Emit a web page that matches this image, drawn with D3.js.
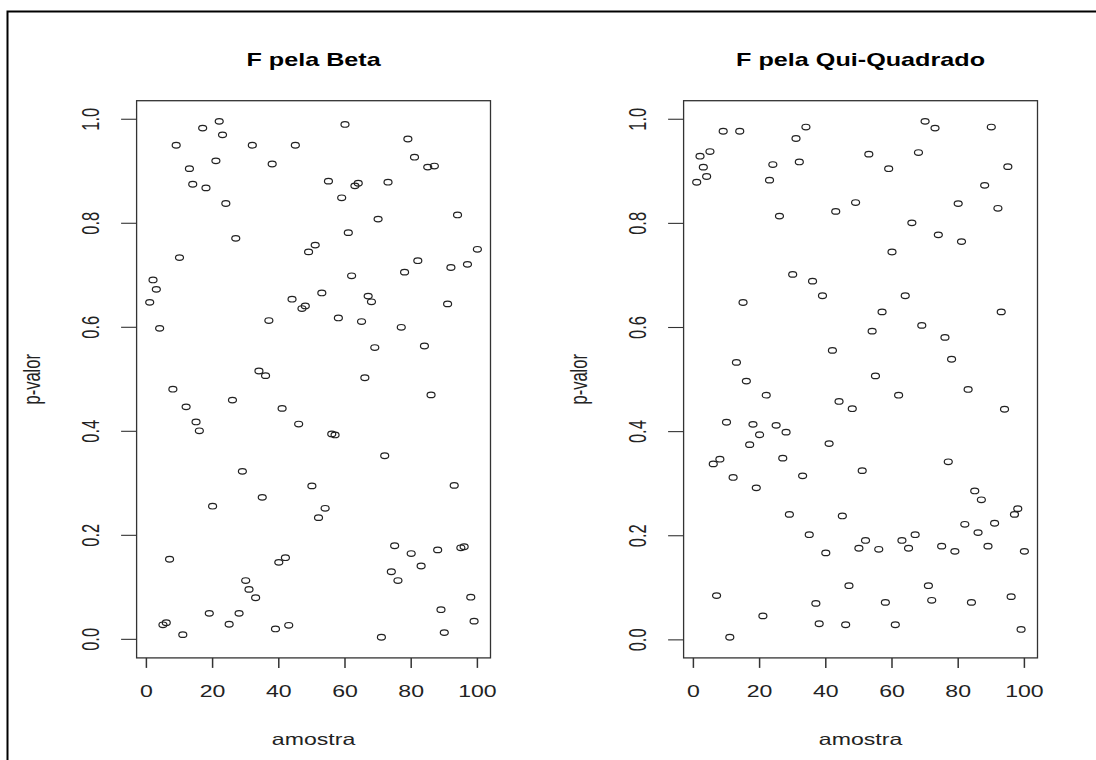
<!DOCTYPE html>
<html>
<head>
<meta charset="utf-8">
<script src="https://cdn.jsdelivr.net/npm/d3@7"></script>
<style>
  html, body { margin: 0; padding: 0; background: #fff; }
  svg text { font-family: "Liberation Sans", Arial, sans-serif; fill: #222; }
</style>
</head>
<body>
<svg id="chart" width="1096" height="760"></svg>
<script>
// ---- data ----
const amostra = d3.range(1, 101);

const pBeta = [
  0.648, 0.691, 0.673, 0.598, 0.028, 0.032, 0.154, 0.481, 0.950, 0.734,
  0.009, 0.447, 0.905, 0.875, 0.418, 0.401, 0.983, 0.868, 0.050, 0.256,
  0.920, 0.996, 0.970, 0.838, 0.029, 0.460, 0.771, 0.050, 0.323, 0.113,
  0.096, 0.950, 0.080, 0.516, 0.273, 0.507, 0.613, 0.914, 0.020, 0.148,
  0.444, 0.157, 0.027, 0.654, 0.950, 0.414, 0.636, 0.641, 0.745, 0.295,
  0.758, 0.234, 0.666, 0.252, 0.881, 0.395, 0.393, 0.618, 0.849, 0.990,
  0.782, 0.699, 0.872, 0.877, 0.611, 0.503, 0.660, 0.649, 0.561, 0.808,
  0.004, 0.353, 0.879, 0.130, 0.180, 0.113, 0.600, 0.706, 0.962, 0.165,
  0.927, 0.728, 0.141, 0.564, 0.908, 0.470, 0.910, 0.172, 0.057, 0.013,
  0.645, 0.715, 0.296, 0.816, 0.176, 0.178, 0.721, 0.081, 0.035, 0.750
];

const pQui = [
  0.879, 0.929, 0.908, 0.890, 0.938, 0.338, 0.085, 0.347, 0.977, 0.418,
  0.005, 0.312, 0.533, 0.977, 0.648, 0.497, 0.375, 0.414, 0.292, 0.394,
  0.046, 0.470, 0.883, 0.913, 0.412, 0.814, 0.349, 0.399, 0.241, 0.702,
  0.963, 0.918, 0.315, 0.985, 0.202, 0.689, 0.070, 0.031, 0.661, 0.167,
  0.377, 0.556, 0.823, 0.458, 0.238, 0.029, 0.104, 0.444, 0.840, 0.176,
  0.325, 0.191, 0.933, 0.593, 0.507, 0.174, 0.630, 0.072, 0.905, 0.745,
  0.029, 0.470, 0.191, 0.661, 0.176, 0.801, 0.202, 0.936, 0.604, 0.996,
  0.104, 0.076, 0.983, 0.778, 0.180, 0.581, 0.342, 0.539, 0.170, 0.838,
  0.765, 0.222, 0.481, 0.072, 0.286, 0.206, 0.269, 0.873, 0.180, 0.985,
  0.224, 0.829, 0.630, 0.443, 0.909, 0.083, 0.241, 0.252, 0.020, 0.170
];

const titles = ["F pela Beta", "F pela Qui-Quadrado"];
const xTicks = [0, 20, 40, 60, 80, 100];
const yTicks = [0.0, 0.2, 0.4, 0.6, 0.8, 1.0];
const xLabel = "amostra";
const yLabel = "p-valor";

// ---- layout ----
const SX = 1.4;           // horizontal stretch of the original picture
const FS = 16.5;          // tick / axis label size
const panelLeft = [136.6, 683.6];
const panelWidth = 353.9;
const boxTop = 100.7, boxBottom = 657.9;

const svg = d3.select("#chart");

// outer frame (only left/top visible in the picture)
svg.append("rect")
  .attr("x", 7.5).attr("y", 11.5)
  .attr("width", 1200).attr("height", 900)
  .attr("fill", "none").attr("stroke", "#000").attr("stroke-width", 2);

function extend(ext) {
  const d = (ext[1] - ext[0]) * 0.04;
  return [ext[0] - d, ext[1] + d];
}

function stretchedText(g, x, y, txt, opts) {
  const t = g.append("text")
    .attr("transform", `translate(${x},${y}) scale(${SX},1)` + (opts.rotate ? " rotate(-90)" : ""))
    .attr("text-anchor", "middle")
    .attr("font-size", opts.size)
    .text(txt);
  if (opts.bold) t.attr("font-weight", "bold").style("fill", "#000");
  return t;
}

[pBeta, pQui].forEach((vals, k) => {
  const L = panelLeft[k], R = L + panelWidth;
  const x = d3.scaleLinear().domain(extend(d3.extent(amostra))).range([L, R]);
  const y = d3.scaleLinear().domain(extend(d3.extent(vals))).range([boxBottom, boxTop]);
  const g = svg.append("g");

  // box
  g.append("rect")
    .attr("x", L).attr("y", boxTop)
    .attr("width", R - L).attr("height", boxBottom - boxTop)
    .attr("fill", "none").attr("stroke", "#333").attr("stroke-width", 1.3);

  // x axis ticks + labels
  xTicks.forEach(t => {
    g.append("line")
      .attr("x1", x(t)).attr("x2", x(t))
      .attr("y1", boxBottom).attr("y2", boxBottom + 10)
      .attr("stroke", "#333").attr("stroke-width", 1.5);
    stretchedText(g, x(t), 696.5, String(t), { size: FS });
  });

  // y axis ticks + labels
  yTicks.forEach(t => {
    g.append("line")
      .attr("x1", L).attr("x2", L - 15.5)
      .attr("y1", y(t)).attr("y2", y(t))
      .attr("stroke", "#333").attr("stroke-width", 1.1);
    stretchedText(g, L - 38, y(t), d3.format(".1f")(t), { size: FS, rotate: true });
  });

  // titles
  stretchedText(g, (L + R) / 2, 66, titles[k], { size: 18, bold: true });
  stretchedText(g, (L + R) / 2, 745, xLabel, { size: FS });
  stretchedText(g, L - 97, (boxTop + boxBottom) / 2, yLabel, { size: FS, rotate: true });

  // points
  g.selectAll("ellipse.pt")
    .data(amostra.map((a, i) => ({ a, v: vals[i] })))
    .join("ellipse")
    .attr("class", "pt")
    .attr("cx", d => x(d.a))
    .attr("cy", d => y(d.v))
    .attr("rx", 4.0).attr("ry", 2.8)
    .attr("fill", "none")
    .attr("stroke", "#222")
    .attr("stroke-width", 1.2);
});
</script>
</body>
</html>
